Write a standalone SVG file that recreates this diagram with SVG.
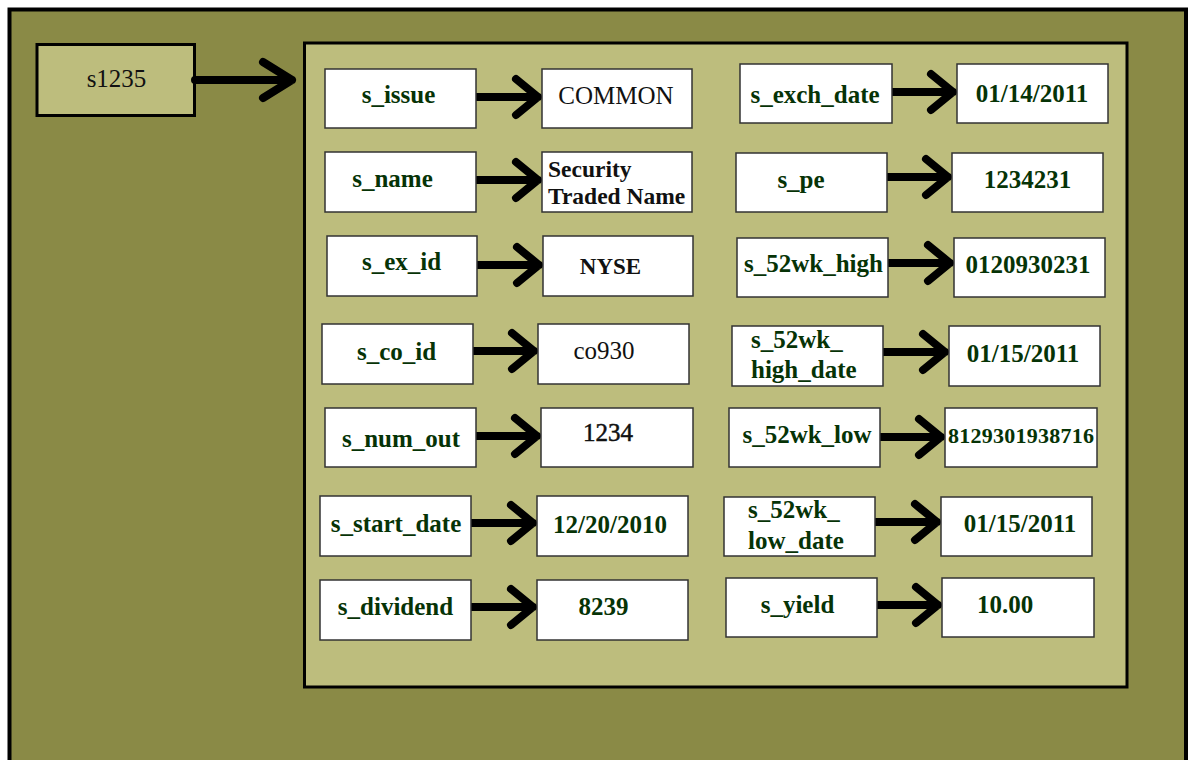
<svg xmlns="http://www.w3.org/2000/svg" width="1189" height="760" viewBox="0 0 1189 760">
<style>
.k{fill:#fff;stroke:#333;stroke-width:1.5}
.t{font-family:"Liberation Serif","Times New Roman",serif;font-size:25px;font-weight:bold;fill:#063306;text-anchor:middle}
.l{text-anchor:start}
.b{fill:#111}
.r{font-weight:normal}
.a{fill:none;stroke:#000;stroke-width:8;stroke-linecap:round;stroke-linejoin:round}
</style>
<rect x="0" y="0" width="1189" height="760" fill="#fff"/>
<rect id="outer" x="9.5" y="9.5" width="1176.5" height="770" fill="#8a8a46" stroke="#000" stroke-width="4"/>
<rect id="inner" x="304.5" y="43" width="822.5" height="644" fill="#bdbd7d" stroke="#000" stroke-width="3"/>
<g id="s1235"><rect x="37" y="44.5" width="157.5" height="71" fill="#bdbd7d" stroke="#000" stroke-width="3"/><text class="t b r" x="116.5" y="87">s1235</text></g>
<g id="connectors">
<path class="a" d="M195 80H292M263 62L292 80L263 98"/>
<path class="a" d="M476 97H538M516 79L538 97L516 115"/>
<path class="a" d="M476 180H538M516 162L538 180L516 198"/>
<path class="a" d="M477 265H539M517 247L539 265L517 283"/>
<path class="a" d="M473 351H534M512 333L534 351L512 369"/>
<path class="a" d="M476 436H537M515 418L537 436L515 454"/>
<path class="a" d="M471 523H533M511 505L533 523L511 541"/>
<path class="a" d="M471 607H533M511 589L533 607L511 625"/>
<path class="a" d="M892 92H953M931 74L953 92L931 110"/>
<path class="a" d="M886 177H948M926 159L948 177L926 195"/>
<path class="a" d="M888 263H950M928 245L950 263L928 281"/>
<path class="a" d="M883 352H945M923 334L945 352L923 370"/>
<path class="a" d="M880 437H941M919 419L941 437L919 455"/>
<path class="a" d="M875 522H937M915 504L937 522L915 540"/>
<path class="a" d="M877 605H938M916 587L938 605L916 623"/>
</g>
<g id="s_issue"><rect class="k" x="325" y="69" width="151" height="59"/><text class="t" x="398.5" y="103">s_issue</text></g>
<g id="v_common"><rect class="k" x="542" y="69" width="150" height="59"/><text class="t b r" x="616" y="104">COMMON</text></g>
<g id="s_name"><rect class="k" x="325" y="152" width="151" height="60"/><text class="t" x="392.5" y="187">s_name</text></g>
<g id="v_name"><rect class="k" x="542" y="152" width="150" height="60"/><text class="t b l" x="548" y="177" style="font-size:23.5px">Security</text><text class="t b l" x="548" y="204" style="font-size:23.5px">Traded Name</text></g>
<g id="s_ex_id"><rect class="k" x="327" y="236" width="150" height="60"/><text class="t" x="401.5" y="270">s_ex_id</text></g>
<g id="v_nyse"><rect class="k" x="543" y="236" width="150" height="60"/><text class="t b" x="610.5" y="274" style="font-size:23px">NYSE</text></g>
<g id="s_co_id"><rect class="k" x="322" y="324" width="151" height="60"/><text class="t" x="396.5" y="360">s_co_id</text></g>
<g id="v_co930"><rect class="k" x="538" y="324" width="151" height="60"/><text class="t b r" x="604" y="359">co930</text></g>
<g id="s_num_out"><rect class="k" x="325" y="408" width="151" height="59"/><text class="t" x="401" y="447">s_num_out</text></g>
<g id="v_1234"><rect class="k" x="541" y="408" width="152" height="59"/><text class="t b r" x="608" y="441" style="stroke:#111;stroke-width:0.5">1234</text></g>
<g id="s_start_date"><rect class="k" x="320" y="496" width="151" height="60"/><text class="t" x="396" y="532">s_start_date</text></g>
<g id="v_start"><rect class="k" x="537" y="496" width="151" height="60"/><text class="t" x="610" y="533">12/20/2010</text></g>
<g id="s_dividend"><rect class="k" x="320" y="580" width="151" height="60"/><text class="t" x="395.5" y="615">s_dividend</text></g>
<g id="v_8239"><rect class="k" x="537" y="580" width="151" height="60"/><text class="t" x="603.5" y="615">8239</text></g>
<g id="s_exch_date"><rect class="k" x="740" y="64" width="152" height="59"/><text class="t" x="815" y="103">s_exch_date</text></g>
<g id="v_exch"><rect class="k" x="957" y="64" width="151" height="59"/><text class="t" x="1032" y="102">01/14/2011</text></g>
<g id="s_pe"><rect class="k" x="736" y="153" width="151" height="59"/><text class="t" x="801" y="188">s_pe</text></g>
<g id="v_pe"><rect class="k" x="952" y="153" width="151" height="59"/><text class="t" x="1027.5" y="188">1234231</text></g>
<g id="s_52wk_high"><rect class="k" x="737" y="238" width="151" height="59"/><text class="t" x="813.5" y="272">s_52wk_high</text></g>
<g id="v_high"><rect class="k" x="954" y="238" width="151" height="59"/><text class="t" x="1028" y="273">0120930231</text></g>
<g id="s_52wk_high_date"><rect class="k" x="732" y="326" width="151" height="60"/><text class="t l" x="751" y="348">s_52wk_</text><text class="t l" x="751" y="378">high_date</text></g>
<g id="v_high_date"><rect class="k" x="949" y="326" width="151" height="60"/><text class="t" x="1023" y="362">01/15/2011</text></g>
<g id="s_52wk_low"><rect class="k" x="729" y="408" width="151" height="59"/><text class="t" x="807" y="443">s_52wk_low</text></g>
<g id="v_low"><rect class="k" x="945" y="408" width="152" height="59"/><text class="t" x="1021" y="443" style="font-size:22px" textLength="146" lengthAdjust="spacing">8129301938716</text></g>
<g id="s_52wk_low_date"><rect class="k" x="724" y="497" width="151" height="59"/><text class="t l" x="748" y="518">s_52wk_</text><text class="t l" x="748" y="549">low_date</text></g>
<g id="v_low_date"><rect class="k" x="941" y="497" width="151" height="59"/><text class="t" x="1020" y="532">01/15/2011</text></g>
<g id="s_yield"><rect class="k" x="726" y="578" width="151" height="59"/><text class="t" x="797.5" y="613">s_yield</text></g>
<g id="v_yield"><rect class="k" x="942" y="578" width="152" height="59"/><text class="t" x="1005" y="613">10.00</text></g>
</svg>
